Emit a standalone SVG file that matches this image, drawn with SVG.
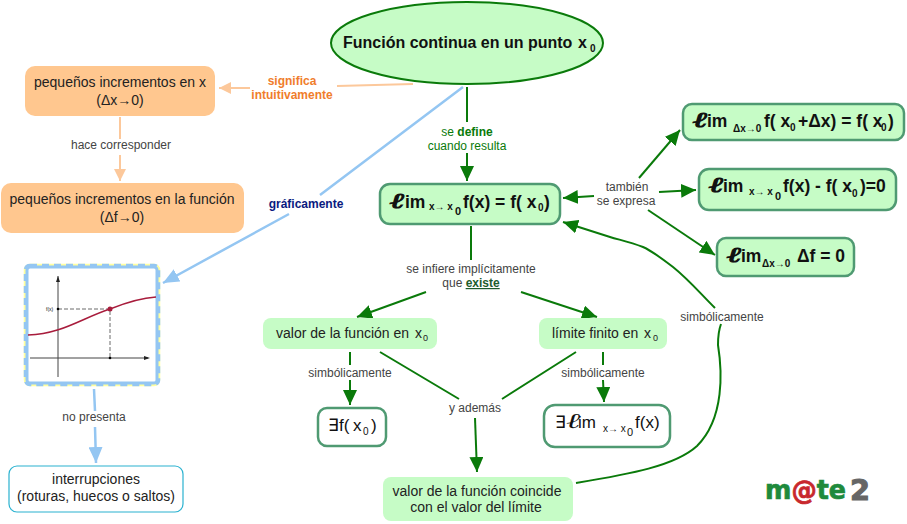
<svg xmlns="http://www.w3.org/2000/svg" width="907" height="524" viewBox="0 0 907 524">
<style>
text{font-family:"Liberation Sans",Arial,sans-serif;fill:#111}
.l{font-size:12px;fill:#444;text-anchor:middle}
.g{font-size:12px;fill:#0a7a0a;text-anchor:middle}
.b{font-weight:bold}
.m{font-size:17.5px;font-weight:bold}
.e{font-family:"DejaVu Serif",serif;font-style:italic;font-weight:bold;font-size:21px;stroke:#111;stroke-width:.9}
.i{font-size:17.5px;font-weight:bold}
.n{font-size:14px;text-anchor:middle;fill:#222}
.t{font-size:14px;fill:#222}
.s{font-size:10px;font-weight:bold}
.z{font-size:10px;font-weight:bold}
.r{font-size:17px}
.f{fill:#c6fcc6;stroke:#4f9a72;stroke-width:2.5}
.p{fill:#c6fcc6}
.o{fill:#ffc78f}
.w{fill:#fff;stroke:#4f9a72;stroke-width:2.5}
.cg{fill:none;stroke:#0a7a0a;stroke-width:2}
.co{fill:none;stroke:#fcc89b;stroke-width:2}
.cb{fill:none;stroke:#94c6f2;stroke-width:2.5}
</style>
<defs>
<marker id="ag" markerUnits="userSpaceOnUse" markerWidth="16" markerHeight="14" refX="15" refY="7" orient="auto"><path d="M0 0L15 7L0 14Z" fill="#0a7a0a"/></marker>
<marker id="ao" markerUnits="userSpaceOnUse" markerWidth="13" markerHeight="12" refX="12" refY="6" orient="auto"><path d="M0 0L12 6L0 12Z" fill="#fcc89b"/></marker>
<marker id="ab" markerUnits="userSpaceOnUse" markerWidth="17" markerHeight="14" refX="16" refY="7" orient="auto"><path d="M0 0L16 7L0 14Z" fill="#94c6f2"/></marker>
</defs>
<rect width="907" height="524" fill="#fff"/>
<g id="connectors">
<path class="co" d="M413 84L337 86M250 88L219 88" marker-end="url(#ao)"/>
<path class="co" d="M120 117V139M120 155V181" marker-end="url(#ao)"/>
<path class="cb" d="M463 87L320 195M289 214L163 283" marker-end="url(#ab)"/>
<path class="cb" d="M94 389L95 411M95 427L96 463" marker-end="url(#ab)"/>
<path class="cg" d="M467 87V122M467 153V181" marker-end="url(#ag)"/>
<path class="cg" d="M594 196L563 198" marker-end="url(#ag)"/>
<path class="cg" d="M639 178L680 130" marker-end="url(#ag)"/>
<path class="cg" d="M659 192L696 190" marker-end="url(#ag)"/>
<path class="cg" d="M648 210L715 255" marker-end="url(#ag)"/>
<path class="cg" d="M471 226V260"/>
<path class="cg" d="M426 292L357 317" marker-end="url(#ag)"/>
<path class="cg" d="M521 292L597 317" marker-end="url(#ag)"/>
<path class="cg" d="M350 352V365M350 380V405" marker-end="url(#ag)"/>
<path class="cg" d="M603 352V365M603 380L604 402" marker-end="url(#ag)"/>
<path class="cg" d="M380 352L459 399M576 352L502 399"/>
<path class="cg" d="M475 418L477 472" marker-end="url(#ag)"/>
<path class="cg" d="M576 483C630 474 675 466 697 446C725 418 722 370 718 345Q718 332 721 324"/>
<path class="cg" d="M715 308C700 293 688 279 673 267C660 257 652 251 643 247C630 242 620 240 610 237L563 222" marker-end="url(#ag)"/>
</g>
<g id="node-main"><ellipse cx="467" cy="43" rx="136" ry="41" fill="#c6fcc6" stroke="#0a7a0a" stroke-width="2"/><text x="343" y="48" font-size="16" class="b">Función continua en un punto</text><text x="578" y="48" font-size="16" class="b">x</text><text x="590" y="52" class="s">0</text></g>
<g id="node-inc-x"><rect class="o" x="25" y="66" width="190" height="50" rx="10"/><text class="n" x="120" y="87">pequeños incrementos en x</text><text class="n" x="120" y="105">(Δx→0)</text></g>
<g id="node-inc-f"><rect class="o" x="1" y="183" width="243" height="50" rx="10"/><text class="n" x="122" y="204">pequeños incrementos en la función</text><text class="n" x="122" y="222">(Δf→0)</text></g>
<g id="node-limit"><rect class="f" x="380" y="184" width="180" height="40" rx="10"/><text class="e" x="390" y="208" textLength="15" lengthAdjust="spacingAndGlyphs">ℓ</text><text class="i" x="405" y="208">im</text><text class="s" x="429" y="210">x→ x</text><text class="b" font-size="11" x="455" y="215">0</text><text class="m" x="463" y="208">f(x) = f( x</text><text class="z" x="538" y="211">0</text><text class="m" x="544" y="208">)</text></g>
<g id="node-lim1"><rect class="f" x="683" y="104" width="221" height="36" rx="9"/><text class="e" x="693" y="127" textLength="15" lengthAdjust="spacingAndGlyphs">ℓ</text><text class="i" x="707" y="127">im</text><text class="s" x="733" y="132">Δx→0</text><text class="m" x="764" y="127">f( x</text><text class="z" x="790" y="131">0</text><text class="m" x="798" y="127">+Δx) = f( x</text><text class="z" x="881" y="131">0</text><text class="m" x="888" y="127">)</text></g>
<g id="node-lim2"><rect class="f" x="699" y="169" width="197" height="41" rx="10"/><text class="e" x="709" y="192" textLength="15" lengthAdjust="spacingAndGlyphs">ℓ</text><text class="i" x="723" y="192">im</text><text class="s" x="749" y="195">x→ x</text><text class="b" font-size="11" x="775" y="200">0</text><text class="m" x="783" y="192">f(x) - f( x</text><text class="z" x="852" y="197">0</text><text class="m" x="860" y="192">)=0</text></g>
<g id="node-lim3"><rect class="f" x="717" y="238" width="137" height="38" rx="9"/><text class="e" x="727" y="262" textLength="15" lengthAdjust="spacingAndGlyphs">ℓ</text><text class="i" x="741" y="262">im</text><text class="s" x="762" y="267">Δx→0</text><text class="m" x="797" y="262">Δf = 0</text></g>
<g id="node-graph">
<rect x="25" y="265" width="134" height="120" rx="5" fill="#fff" stroke="#ffffa0" stroke-width="2.5"/>
<rect x="25" y="265" width="134" height="120" rx="5" fill="none" stroke="#94c6f2" stroke-width="2.5" stroke-dasharray="7 5"/>
<rect x="27" y="267" width="130" height="116" rx="3" fill="#fff" stroke="#94c6f2" stroke-width="3"/>
<path d="M58 276V377M30 358H148" stroke="#444" stroke-width="1" fill="none"/>
<path d="M58 276l-2 6h4zM150 358l-6-2v4z" fill="#222"/>
<path d="M58 309H110V358" stroke="#444" stroke-width=".8" stroke-dasharray="4 2" fill="none"/>
<path d="M28 335C62 334 82 318 110 309C125 303 140 298 156 297" stroke="#a81c3c" stroke-width="1.5" fill="none"/>
<circle cx="110" cy="309" r="2.5" fill="#a81c3c"/><circle cx="58" cy="309" r="1.3" fill="#000"/><circle cx="110" cy="358" r="1.3" fill="#000"/>
<text x="46" y="311" font-size="5">f(x)</text>
</g>
<g id="node-inter"><rect x="9" y="466" width="174" height="46" rx="8" fill="#fff" stroke="#2ab2d0" stroke-width="1.2"/><text class="n" x="96" y="484">interrupciones</text><text class="n" x="96" y="501">(roturas, huecos o saltos)</text></g>
<g id="node-valor"><rect class="p" x="263" y="318" width="174" height="31" rx="8"/><text class="t" x="276" y="338">valor de la función en</text><text class="t" x="415" y="338">x</text><text font-size="9" x="423" y="341" style="fill:#222">0</text></g>
<g id="node-finito"><rect class="p" x="539" y="318" width="128" height="31" rx="8"/><text class="t" x="552" y="338">límite finito en</text><text class="t" x="644" y="338">x</text><text font-size="9" x="653" y="341" style="fill:#222">0</text></g>
<g id="node-e1"><rect class="w" x="318" y="408" width="68" height="38" rx="9"/><text class="r" x="328" y="431">∃f(</text><text class="r" x="353" y="431">x</text><text font-size="10" x="363" y="435">0</text><text class="r" x="371" y="431">)</text></g>
<g id="node-e2"><rect class="w" x="544" y="405" width="126" height="42" rx="11"/><text class="r" x="555" y="428">∃</text><text x="566" y="428" font-size="21" textLength="14" lengthAdjust="spacingAndGlyphs" style="font-family:'DejaVu Serif',serif;font-style:italic">ℓ</text><text class="r" x="578" y="428">im</text><text font-size="10" x="603" y="432">x→ x</text><text font-size="11" x="627" y="436">0</text><text class="r" x="635" y="428">f(x)</text></g>
<g id="node-coincide"><rect class="p" x="383" y="477" width="190" height="44" rx="8"/><text class="n" x="477" y="496">valor de la función coincide</text><text class="n" x="476" y="512">con el valor del límite</text></g>
<g id="labels">
<text class="b" font-size="12" x="292" y="85" text-anchor="middle" style="fill:#f07d2c">significa</text>
<text class="b" font-size="12" x="292" y="99" text-anchor="middle" style="fill:#f07d2c">intuitivamente</text>
<text class="l" x="121" y="149">hace corresponder</text>
<text class="b" font-size="12" x="306" y="208" text-anchor="middle" style="fill:#0a1a80">gráficamente</text>
<text class="l" x="94" y="421">no presenta</text>
<text class="g" style="fill:#0a7a0a" x="467" y="136">se <tspan class="b" style="fill:#0a7a0a">define</tspan></text>
<text class="g" style="fill:#0a7a0a" x="467" y="150">cuando resulta</text>
<text class="l" x="627" y="191">también</text>
<text class="l" x="626" y="205">se expresa</text>
<text class="l" x="471" y="273">se infiere implícitamente</text>
<text class="l" x="471" y="287">que <tspan class="b" text-decoration="underline" style="fill:#1d5c2e">existe</tspan></text>
<text class="l" x="350" y="377">simbólicamente</text>
<text class="l" x="603" y="377">simbólicamente</text>
<text class="l" x="475" y="412">y además</text>
<text class="l" x="722" y="321">simbólicamente</text>
</g>
<g id="logo" font-weight="bold"><text x="765" y="499" font-size="26" stroke="#1e8a3c" stroke-width=".7" style="font-family:'DejaVu Sans',sans-serif;fill:#1e8a3c" textLength="81" lengthAdjust="spacingAndGlyphs">m<tspan stroke="#c8282d" style="fill:#c8282d">@</tspan>te</text><text x="850" y="500" font-size="28" stroke="#666" stroke-width="1" style="font-family:'DejaVu Sans',sans-serif;fill:#666" textLength="20" lengthAdjust="spacingAndGlyphs">2</text></g>
</svg>
